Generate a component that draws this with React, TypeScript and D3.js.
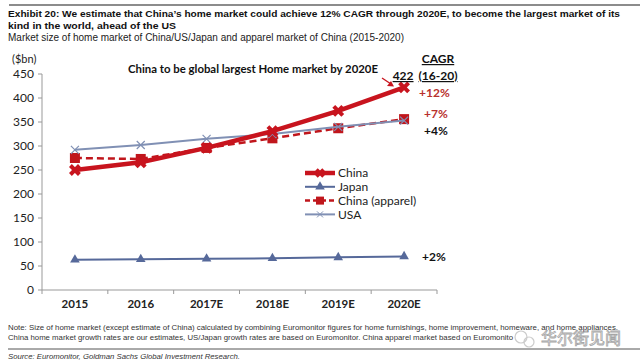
import React from 'react';
import * as d3 from 'd3';

// ---- data ----
const years = ['2015', '2016', '2017E', '2018E', '2019E', '2020E'];
const china = [250, 266, 296, 331, 373, 422];
const japan = [63, 64, 65, 66, 68, 70];
const chinaApparel = [275, 273, 296, 316, 337, 356];
const usa = [292, 302, 315, 325, 340, 353];
const yTicks = [0, 50, 100, 150, 200, 250, 300, 350, 400, 450];
const cagrLabels = ['+12%', '+7%', '+4%', '+2%'];

const W = 640;
const H = 364;

const RED = '#C8141E';
const APPAREL = '#C0161C';
const JAPAN = '#56699A';
const USA = '#8090B4';

const x = d3.scaleBand<string>().domain(years).range([42, 437]);
const cx = (d: string) => (x(d) as number) + x.bandwidth() / 2;
const y = d3.scaleLinear().domain([0, 450]).range([290, 74]);

const line = (vals: number[]) =>
  d3
    .line<number>()
    .x((_, i) => cx(years[i]))
    .y((v) => y(v))(vals) as string;

const xMark = (s: number) => `M${-s},${-s}L${s},${s}M${-s},${s}L${s},${-s}`;
const tri = d3.symbol(d3.symbolTriangle, 40)() as string;

const font = 'Lato, "Open Sans", sans-serif';
const arial = '"Liberation Sans", Arial, sans-serif';

function Legend() {
  const rows = [
    { name: 'China', color: RED },
    { name: 'Japan', color: JAPAN },
    { name: 'China (apparel)', color: APPAREL },
    { name: 'USA', color: USA },
  ];
  return (
    <g transform="translate(305,173)" fontFamily={font} fontSize={12}>
      {rows.map((r, i) => (
        <g key={r.name} transform={`translate(0,${i * 13.8})`}>
          {i === 0 && (
            <>
              <line x1={0} x2={30} stroke={RED} strokeWidth={4.5} />
              <path d={xMark(3.5)} transform="translate(15,0)" stroke={RED} strokeWidth={3.5} />
            </>
          )}
          {i === 1 && (
            <>
              <line x1={0} x2={30} stroke={JAPAN} strokeWidth={2} />
              <path d={tri} transform="translate(15,0)" fill={JAPAN} />
            </>
          )}
          {i === 2 && (
            <>
              <line x1={0} x2={30} stroke={APPAREL} strokeWidth={2.5} strokeDasharray="5,3" />
              <rect x={11} y={-4} width={8} height={8} fill={APPAREL} />
            </>
          )}
          {i === 3 && (
            <>
              <line x1={0} x2={30} stroke={USA} strokeWidth={2} />
              <path d={xMark(3)} transform="translate(15,0)" stroke={USA} strokeWidth={1} />
            </>
          )}
          <text x={33} dy="0.35em" fill="#222">
            {r.name}
          </text>
        </g>
      ))}
    </g>
  );
}

export default function App() {
  const last = years[years.length - 1];
  return (
    <svg width={W} height={H} style={{ position: 'absolute', left: 0, top: 0, background: '#fff' }}>
      <rect width={W} height={H} fill="#fff" />
      {/* header */}
      <line x1={9} x2={640} y1={5} y2={5} stroke="#8c8c8c" strokeWidth={2} />
      <g fontFamily={arial} fill="#111">
        <text x={8} y={17} fontSize={9.8} fontWeight="bold" textLength={612} lengthAdjust="spacingAndGlyphs">
          Exhibit 20: We estimate that China’s home market could achieve 12% CAGR through 2020E, to become the largest market of its
        </text>
        <text x={8} y={29} fontSize={9.8} fontWeight="bold" textLength={168} lengthAdjust="spacingAndGlyphs">
          kind in the world, ahead of the US
        </text>
        <text x={8} y={41} fontSize={10} fill="#222" textLength={396} lengthAdjust="spacingAndGlyphs">
          Market size of home market of China/US/Japan and apparel market of China (2015-2020)
        </text>
      </g>

      {/* axes */}
      <g fontFamily={font} fontSize={12} fill="#222">
        <text x={12} y={63} fontSize={11}>($bn)</text>
        {yTicks.map((t) => (
          <g key={t}>
            <line x1={38} x2={42} y1={y(t)} y2={y(t)} stroke="#999" />
            <text x={34} y={y(t)} dy="0.35em" textAnchor="end">
              {t}
            </text>
          </g>
        ))}
        <line x1={42} x2={42} y1={74} y2={290} stroke="#999" />
        <line x1={42} x2={437} y1={290} y2={290} stroke="#999" />
        {[...years.map((d) => x(d) as number), 437].map((v, i) => (
          <line key={i} x1={v} x2={v} y1={290} y2={294} stroke="#999" />
        ))}
        {years.map((d) => (
          <text key={d} x={cx(d)} y={308} textAnchor="middle" fontWeight="bold" fontSize={11.5}>
            {d}
          </text>
        ))}
      </g>

      {/* series */}
      <path d={line(japan)} fill="none" stroke={JAPAN} strokeWidth={2} />
      {japan.map((v, i) => (
        <path key={i} d={tri} transform={`translate(${cx(years[i])},${y(v)})`} fill={JAPAN} />
      ))}

      <path d={line(chinaApparel)} fill="none" stroke={APPAREL} strokeWidth={2.5} strokeDasharray="7,4" />
      {chinaApparel.map((v, i) => (
        <rect key={i} x={cx(years[i]) - 5} y={y(v) - 5} width={10} height={10} fill={APPAREL} />
      ))}

      <path d={line(usa)} fill="none" stroke={USA} strokeWidth={2} />
      {usa.map((v, i) => (
        <path key={i} d={xMark(4)} transform={`translate(${cx(years[i])},${y(v)})`} stroke={USA} strokeWidth={1.2} />
      ))}

      <path d={line(china)} fill="none" stroke={RED} strokeWidth={4.5} />
      {china.map((v, i) => (
        <path key={i} d={xMark(4.5)} transform={`translate(${cx(years[i])},${y(v)})`} stroke={RED} strokeWidth={4} />
      ))}

      <Legend />

      {/* annotations */}
      <g fontFamily={font} fontWeight="bold" fontSize={12}>
        <text x={128} y={73} fill="#111" textLength={250} lengthAdjust="spacingAndGlyphs">
          China to be global largest Home market by 2020E
        </text>
        <line x1={382} y1={78} x2={391} y2={84} stroke={RED} strokeWidth={1.3} />
        <path d="M394,86.5 L387,86 L391,81 Z" fill={RED} />
        <text x={cx(last) - 1} y={80} textAnchor="middle" fill="#111" textDecoration="underline">
          {china[china.length - 1]}
        </text>
        <text x={438} y={63} textAnchor="middle" fill="#111" textDecoration="underline">CAGR</text>
        <text x={438} y={80} textAnchor="middle" fill="#111" textDecoration="underline">(16-20)</text>
        <text x={419} y={97} fill="#B8302C">{cagrLabels[0]}</text>
        <text x={424} y={118} fill="#B8302C">{cagrLabels[1]}</text>
        <text x={424} y={135} fill="#111">{cagrLabels[2]}</text>
        <text x={422} y={261} fill="#111">{cagrLabels[3]}</text>
      </g>

      {/* footer */}
      <g fontFamily={arial} fontSize={7.2} fill="#333">
        <text x={8} y={330} textLength={610} lengthAdjust="spacingAndGlyphs">
          Note: Size of home market (except estimate of China) calculated by combining Euromonitor figures for home furnishings, home improvement, homeware, and home appliances.
        </text>
        <text x={8} y={340} textLength={505} lengthAdjust="spacingAndGlyphs">
          China home market growth rates are our estimates, US/Japan growth rates are based on Euromonitor. China apparel market based on Euromonito
        </text>
        <line x1={8} x2={640} y1={349} y2={349} stroke="#555" strokeWidth={1} />
        <text x={8} y={359} fontStyle="italic" textLength={232} lengthAdjust="spacingAndGlyphs">
          Source: Euromonitor, Goldman Sachs Global Investment Research.
        </text>
      </g>
      {/* watermark */}
      <g opacity={0.75}>
        <circle cx={521} cy={337} r={6} fill="none" stroke="#bbb" strokeWidth={1.2} />
        <circle cx={529} cy={342} r={5} fill="none" stroke="#bbb" strokeWidth={1.2} />
        <text x={541} y={344} fontFamily='"Noto Sans CJK SC", sans-serif' fontSize={16} fill="#fff" stroke="#888" strokeWidth={0.8}>
          华尔街见闻
        </text>
      </g>
    </svg>
  );
}
